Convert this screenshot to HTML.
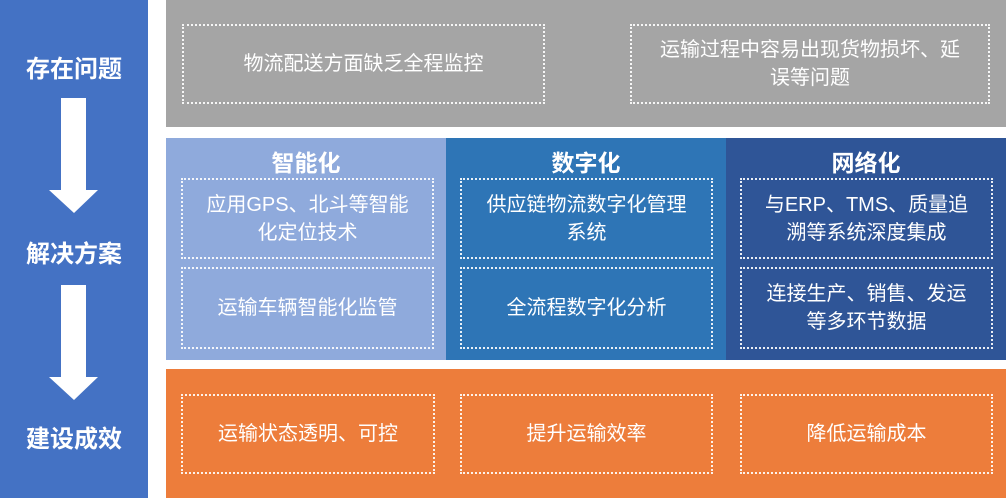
<!DOCTYPE html><html><head><meta charset="utf-8"><style>
*{margin:0;padding:0;box-sizing:border-box}
body{width:1006px;height:498px;background:#fff;position:relative;overflow:hidden;font-family:"Liberation Sans","Noto Sans CJK SC",sans-serif}
.a{position:absolute}
.box{position:absolute;border:2px dotted rgba(255,255,255,.9);color:#fff;display:flex;align-items:center;justify-content:center;text-align:center;font-size:20px;line-height:28px;padding:0 20px}
.lab{position:absolute;left:0;width:148px;text-align:center;color:#fff;font-weight:bold;font-size:24px}
.h{position:absolute;color:#fff;font-weight:bold;font-size:23px;text-align:center}
</style></head><body>
<div class="a" style="left:0;top:0;width:148px;height:498px;background:#4472c4"></div>
<div class="lab" style="top:49px">存在问题</div>
<div class="lab" style="top:234px">解决方案</div>
<div class="lab" style="top:419px">建设成效</div>
<svg class="a" style="left:0;top:0" width="148" height="498"><polygon points="61,98 86,98 86,190 98,190 74,213 49,190 61,190" fill="#fff"/><polygon points="61,285 86,285 86,377 98,377 74,400 49,377 61,377" fill="#fff"/></svg>
<div class="a" style="left:166px;top:0;width:840px;height:127px;background:#a5a5a5"></div>
<div class="box" style="left:182px;top:24px;width:363px;height:80px">物流配送方面缺乏全程监控</div>
<div class="box" style="left:630px;top:24px;width:360px;height:80px">运输过程中容易出现货物损坏、延误等问题</div>
<div class="a" style="left:166px;top:138px;width:280px;height:222px;background:#8faadc"></div>
<div class="a" style="left:446px;top:138px;width:280px;height:222px;background:#2e75b6"></div>
<div class="a" style="left:726px;top:138px;width:280px;height:222px;background:#2f5597"></div>
<div class="h" style="left:166px;width:280px;top:144px">智能化</div>
<div class="h" style="left:446px;width:280px;top:144px">数字化</div>
<div class="h" style="left:726px;width:280px;top:144px">网络化</div>
<div class="box" style="left:181px;top:178px;width:253px;height:81px">应用GPS、北斗等智能化定位技术</div>
<div class="box" style="left:181px;top:267px;width:253px;height:82px">运输车辆智能化监管</div>
<div class="box" style="left:460px;top:178px;width:253px;height:81px">供应链物流数字化管理系统</div>
<div class="box" style="left:460px;top:267px;width:253px;height:82px">全流程数字化分析</div>
<div class="box" style="left:740px;top:178px;width:253px;height:81px">与ERP、TMS、质量追溯等系统深度集成</div>
<div class="box" style="left:740px;top:267px;width:253px;height:82px">连接生产、销售、发运等多环节数据</div>
<div class="a" style="left:166px;top:369px;width:840px;height:129px;background:#ed7d3b"></div>
<div class="box" style="left:181px;top:394px;width:254px;height:80px">运输状态透明、可控</div>
<div class="box" style="left:460px;top:394px;width:253px;height:80px">提升运输效率</div>
<div class="box" style="left:740px;top:394px;width:253px;height:80px">降低运输成本</div>
</body></html>
